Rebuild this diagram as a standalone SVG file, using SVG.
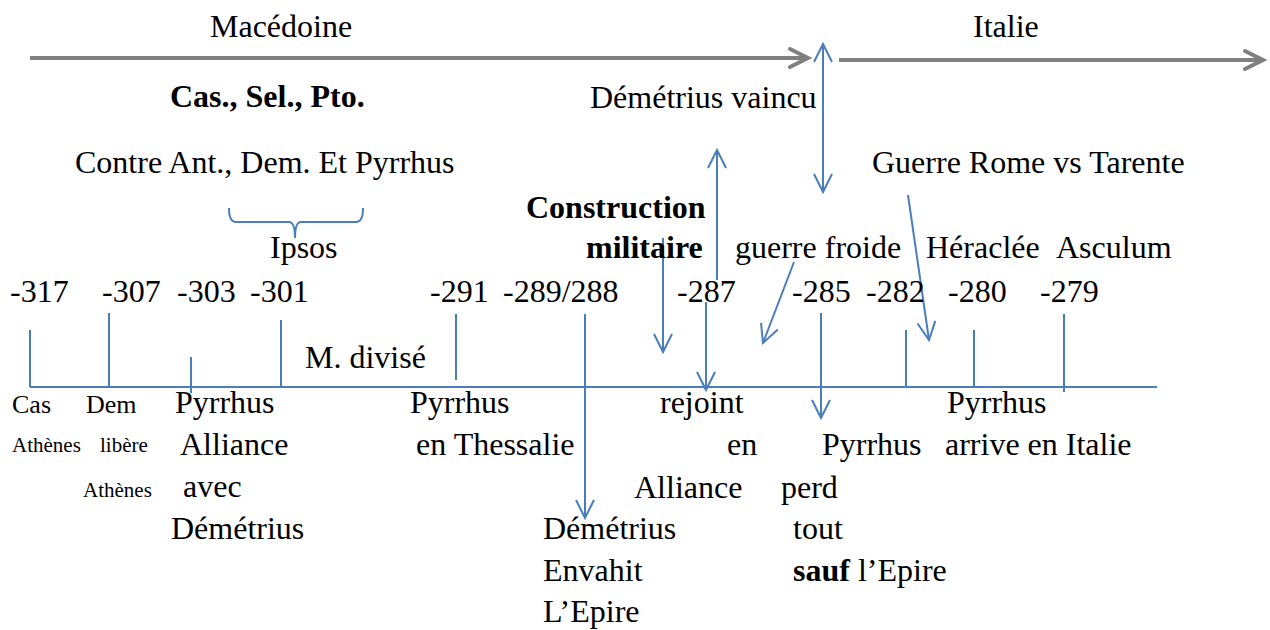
<svg xmlns="http://www.w3.org/2000/svg" width="1270" height="630" viewBox="0 0 1270 630">
<style>
text{font-family:"Liberation Serif","Times New Roman",serif;font-size:32px;fill:#000}
.b{font-weight:bold}
.s{font-size:26px}
.xs{font-size:21px}
.bl{stroke:#4a7ebb;stroke-width:2;fill:none}
.gr{stroke:#7f7f7f;stroke-width:4;fill:none}
</style>
<defs>
<marker id="ab" markerUnits="userSpaceOnUse" orient="auto-start-reverse" markerWidth="40" markerHeight="40" refX="0" refY="0" viewBox="-20 -20 40 40" overflow="visible">
<path d="M-18,-9 L0,0 L-18,9" stroke="#4a7ebb" stroke-width="2" fill="none"/>
</marker>
<marker id="ag" markerUnits="userSpaceOnUse" orient="auto" markerWidth="40" markerHeight="40" refX="0" refY="0" viewBox="-20 -20 40 40" overflow="visible">
<path d="M-18,-9 L0,0 L-18,9" stroke="#7f7f7f" stroke-width="4" fill="none" stroke-linecap="round"/>
</marker>
</defs>
<rect width="1270" height="630" fill="#fff"/>
<g id="connectors">
<line class="gr" x1="30" y1="58" x2="808" y2="58" marker-end="url(#ag)"/>
<line class="gr" x1="839" y1="60" x2="1263" y2="60" marker-end="url(#ag)"/>
<line class="bl" x1="823" y1="192" x2="823" y2="44" marker-start="url(#ab)" marker-end="url(#ab)"/>
<line class="bl" x1="30" y1="387" x2="1157" y2="387"/>
<line class="bl" x1="30" y1="330" x2="30" y2="387"/>
<line class="bl" x1="109" y1="313" x2="109" y2="387"/>
<line class="bl" x1="191" y1="357" x2="191" y2="393"/>
<line class="bl" x1="281" y1="320" x2="281" y2="387"/>
<line class="bl" x1="456" y1="314" x2="456" y2="380"/>
<line class="bl" x1="585" y1="314" x2="585" y2="518" marker-end="url(#ab)"/>
<line class="bl" x1="706" y1="302" x2="706" y2="390" marker-end="url(#ab)"/>
<line class="bl" x1="717" y1="280" x2="717" y2="150" marker-end="url(#ab)"/>
<line class="bl" x1="663" y1="238" x2="663" y2="352" marker-end="url(#ab)"/>
<line class="bl" x1="794" y1="262" x2="763" y2="343" marker-end="url(#ab)"/>
<line class="bl" x1="821" y1="313" x2="821" y2="418" marker-end="url(#ab)"/>
<line class="bl" x1="908" y1="195" x2="929" y2="340" marker-end="url(#ab)"/>
<line class="bl" x1="906" y1="330" x2="906" y2="387"/>
<line class="bl" x1="974" y1="330" x2="974" y2="387"/>
<line class="bl" x1="1064" y1="314" x2="1064" y2="392"/>
<path class="bl" d="M229,208 Q229,222 236,222 L289,222 Q295,222 295,238 Q295,222 301,222 L356,222 Q363,222 363,208"/>
</g>
<g id="headers">
<text x="210" y="37">Macédoine</text>
<text x="973" y="37">Italie</text>
<text class="b" x="170" y="107">Cas., Sel., Pto.</text>
<text x="590" y="108">Démétrius vaincu</text>
<text x="75" y="173">Contre Ant., Dem. Et Pyrrhus</text>
<text x="872" y="173">Guerre Rome vs Tarente</text>
<text class="b" x="526" y="218">Construction</text>
<text class="b" x="586" y="258">militaire</text>
<text x="270" y="258">Ipsos</text>
<text x="735" y="258">guerre froide</text>
<text x="926" y="258">Héraclée</text>
<text x="1056" y="258">Asculum</text>
<text x="305" y="368">M. divisé</text>
</g>
<g id="years">
<text x="10" y="302">-317</text>
<text x="102" y="302">-307</text>
<text x="177" y="302">-303</text>
<text x="250" y="302">-301</text>
<text x="430" y="302">-291</text>
<text x="503" y="302">-289/288</text>
<text x="677" y="302">-287</text>
<text x="792" y="302">-285</text>
<text x="866" y="302">-282</text>
<text x="948" y="302">-280</text>
<text x="1040" y="302">-279</text>
</g>
<g id="events">
<text class="s" x="12" y="413">Cas</text>
<text class="s" x="86" y="413">Dem</text>
<text class="xs" x="12" y="452">Athènes</text>
<text class="xs" x="100" y="452">libère</text>
<text class="xs" x="83" y="497">Athènes</text>
<text x="175" y="413">Pyrrhus</text>
<text x="180" y="455">Alliance</text>
<text x="183" y="497">avec</text>
<text x="171" y="539">Démétrius</text>
<text x="410" y="413">Pyrrhus</text>
<text x="416" y="455">en Thessalie</text>
<text x="543" y="539">Démétrius</text>
<text x="543" y="581">Envahit</text>
<text x="543" y="622">L’Epire</text>
<text x="660" y="413">rejoint</text>
<text x="727" y="455">en</text>
<text x="634" y="498">Alliance</text>
<text x="822" y="455">Pyrrhus</text>
<text x="781" y="498">perd</text>
<text x="793" y="539">tout</text>
<text x="793" y="581"><tspan class="b">sauf</tspan> l’Epire</text>
<text x="947" y="413">Pyrrhus</text>
<text x="945" y="455">arrive en Italie</text>
</g>
</svg>
